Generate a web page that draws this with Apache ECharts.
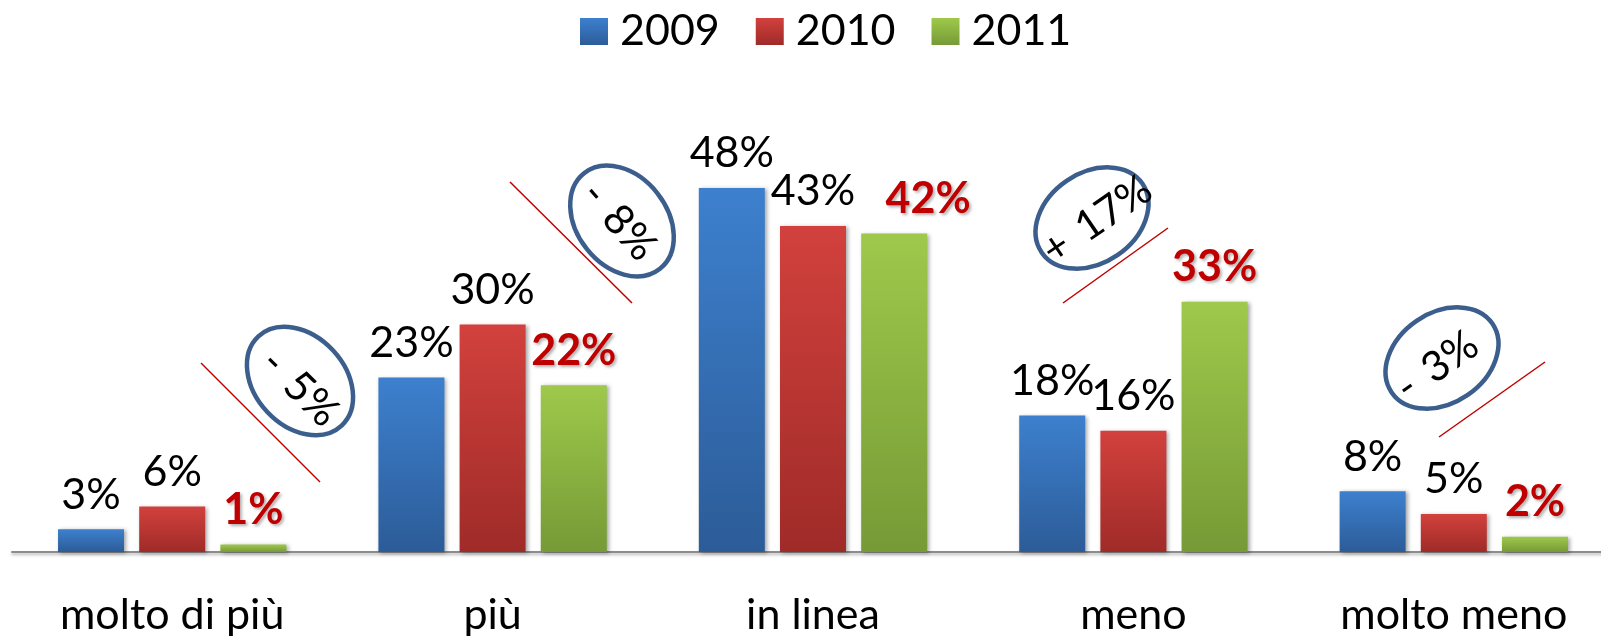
<!DOCTYPE html>
<html>
<head>
<meta charset="utf-8">
<title>Confronto 2009-2011</title>
<script src="https://cdn.jsdelivr.net/npm/echarts@6/dist/echarts.min.js"></script>
<style>
  html, body { margin: 0; padding: 0; background: #fff; }
  #chart { width: 1601px; height: 636px; }
</style>
</head>
<body>
<div id="chart"></div>
<script>
const categories = ['molto di più', 'più', 'in linea', 'meno', 'molto meno'];
const years = ['2009', '2010', '2011'];
const values2009 = [3, 23, 48, 18, 8];
const values2010 = [6, 30, 43, 16, 5];
const values2011 = [1, 22, 42, 33, 2];
const changes = ['- 5%', '- 8%', '+ 17%', '- 3%'];

// colori delle barre (gradiente dall'alto verso il basso)
const palette = [
  ['#3d80ce', '#2c5c98'],
  ['#d2413d', '#9f2b28'],
  ['#9ec94b', '#769a36']
];

const grad = (c) => new echarts.graphic.LinearGradient(0, 0, 0, 1, [
  { offset: 0, color: c[0] },
  { offset: 1, color: c[1] }
]);

const FONT = 'Lato, "Open Sans", sans-serif';

const makeSeries = (name, values, idx) => {
  const red = idx === 2;
  return {
    name: name,
    type: 'bar',
    barWidth: 66,
    barGap: '23%',
    data: values.map((v, i) => {
      // l'etichetta 42% è spostata a destra nell'originale
      if (red && i === 2) return { value: v, label: { offset: [34, 0] } };
      return v;
    }),
    itemStyle: {
      color: grad(palette[idx]),
      shadowColor: 'rgba(0,0,0,0.35)',
      shadowBlur: 4,
      shadowOffsetX: 2,
      shadowOffsetY: 1
    },
    label: {
      show: true,
      position: 'top',
      distance: 13,
      formatter: '{c}%',
      fontFamily: FONT,
      fontSize: 43,
      color: red ? '#c00000' : '#000',
      fontWeight: red ? 'bold' : 'normal',
      textShadowColor: red ? 'rgba(0,0,0,0.3)' : 'transparent',
      textShadowBlur: red ? 3 : 0,
      textShadowOffsetX: red ? 2 : 0,
      textShadowOffsetY: red ? 2 : 0
    }
  };
};

// annotazioni: ellisse blu + linea rossa
const notes = [
  { c: [300, 381], rot: -0.82, t: [300, 388], trot: -0.78, line: [201, 363, 320, 482] },
  { c: [622, 221], rot: -0.9, t: [619, 221], trot: -0.85, line: [510, 182, 632, 303] },
  { c: [1092, 218], rot: 0.6, t: [1097, 220], trot: 0.6, line: [1063, 303, 1168, 228] },
  { c: [1442, 358], rot: 0.6, t: [1437, 366], trot: 0.61, line: [1439, 437, 1545, 362] }
];

const graphics = [];
notes.forEach((n, i) => {
  graphics.push({
    type: 'line',
    shape: { x1: n.line[0], y1: n.line[1], x2: n.line[2], y2: n.line[3] },
    style: { stroke: '#c00000', lineWidth: 1.5 }
  });
  graphics.push({
    type: 'ellipse',
    x: n.c[0], y: n.c[1], rotation: n.rot,
    shape: { cx: 0, cy: 0, rx: 61, ry: 45 },
    style: { fill: 'transparent', stroke: '#3b5e8c', lineWidth: 4.5 }
  });
  graphics.push({
    type: 'text',
    x: n.t[0], y: n.t[1], rotation: n.trot,
    style: {
      text: changes[i].replace(' ', ' \u2009'),
      x: 0, y: 0,
      align: 'center', verticalAlign: 'middle',
      font: '42px ' + FONT,
      fill: '#000'
    }
  });
});

const chart = echarts.init(document.getElementById('chart'));
const option = {
  backgroundColor: '#fff',
  animation: false,
  legend: {
    data: years,
    left: 575,
    top: 5,
    icon: 'rect',
    itemWidth: 28,
    itemHeight: 27,
    itemGap: 36,
    textStyle: { fontFamily: FONT, fontSize: 43, color: '#000', padding: [0, 0, 0, 7] }
  },
  grid: {
    left: 12,
    top: 97,
    width: 1602,
    height: 455,
    outerBoundsMode: 'none'
  },
  xAxis: {
    type: 'category',
    data: categories,
    axisLine: {
      lineStyle: {
        color: '#8c8c8c', width: 2,
        shadowColor: 'rgba(0,0,0,0.3)', shadowBlur: 3, shadowOffsetY: 2
      }
    },
    axisTick: { show: false },
    axisLabel: { fontFamily: FONT, fontSize: 43, color: '#000', margin: 42 }
  },
  yAxis: {
    type: 'value',
    min: 0,
    max: 60,
    show: false
  },
  series: [
    makeSeries(years[0], values2009, 0),
    makeSeries(years[1], values2010, 1),
    makeSeries(years[2], values2011, 2)
  ],
  graphic: graphics
};
chart.setOption(option);
</script>
</body>
</html>
